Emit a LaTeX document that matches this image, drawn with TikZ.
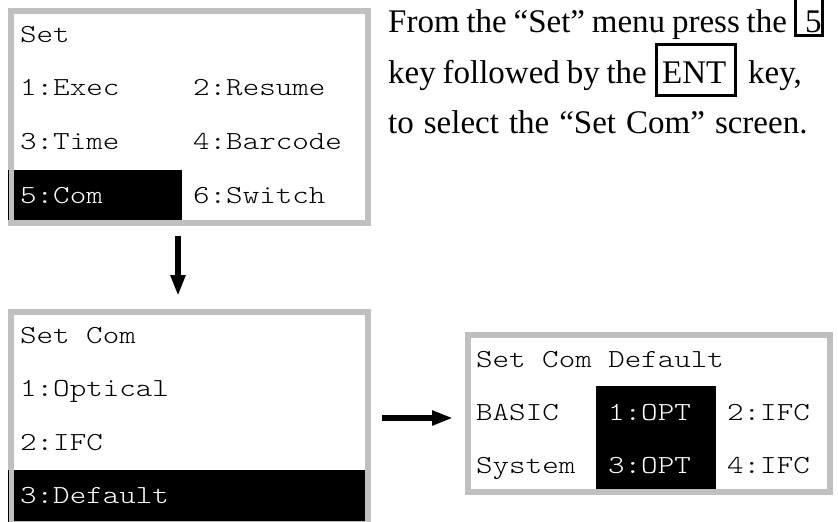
\documentclass[tikz,border=0pt]{standalone}
\usepackage{fontspec}
\setmainfont{Liberation Serif}
\newfontfamily\lcdfont[FakeStretch=1.21]{Latin Modern Mono Light}
\usetikzlibrary{arrows.meta}
\definecolor{lcdgray}{RGB}{192,192,192}
\tikzset{
  screen/.style={rectangle, draw=lcdgray, line width=6pt, fill=white, inner sep=0pt},
  lcd/.style={anchor=base west, inner sep=0pt, font=\lcdfont\fontsize{26}{30}\selectfont, text=black},
  lcdinv/.style={lcd, text=white},
  prose/.style={anchor=base west, inner sep=0pt, font=\fontsize{33}{36}\selectfont},
  keybox/.style={rectangle, draw=black, line width=3pt, inner sep=0pt},
  bigarrow/.style={line width=6pt, -{Triangle[length=21pt,width=14pt]}},
  hl/.style={fill=black},
}
\begin{document}
\begin{tikzpicture}[x=1pt,y=-1pt]
\useasboundingbox (0,0) rectangle (838,522);
% screen 1
\node[screen, minimum width=357pt, minimum height=212pt] (s1) at (189.5,117) {};
\fill[hl] (14,170) rectangle (182,220);
\draw[line width=1pt] (8.5,170) -- (8.5,220);
\node[lcd] (s1t) at (20,42) {Set};
\node[lcd] (s1a) at (20,95.7) {1:Exec};
\node[lcd] (s1b) at (193,95.7) {2:Resume};
\node[lcd] (s1c) at (20,149.3) {3:Time};
\node[lcd] (s1d) at (193,149.3) {4:Barcode};
\node[lcdinv] (s1e) at (20,203) {5:Com};
\node[lcd] (s1f) at (193,203) {6:Switch};
% screen 2
\node[screen, minimum width=357pt, minimum height=212pt] (s2) at (189.5,418) {};
\fill[hl] (14,470) rectangle (365,521);
\draw[line width=1pt] (8.5,470) -- (8.5,522);
\node[lcd] (s2t) at (20,343) {Set Com};
\node[lcd] (s2a) at (20,396.5) {1:Optical};
\node[lcd] (s2b) at (20,450) {2:IFC};
\node[lcdinv] (s2c) at (20,503.5) {3:Default};
% screen 3
\node[screen, minimum width=362pt, minimum height=157pt] (s3) at (649,413.5) {};
\fill[hl] (596,386) rectangle (716,489);
\node[lcd] (s3t) at (476,367) {Set Com Default};
\node[lcd] (s3a) at (476,420) {BASIC};
\node[lcdinv] (s3b) at (608,420) {1:OPT};
\node[lcd] (s3c) at (727,420) {2:IFC};
\node[lcd] (s3d) at (476,473.5) {System};
\node[lcdinv] (s3e) at (608,473.5) {3:OPT};
\node[lcd] (s3f) at (727,473.5) {4:IFC};
% arrows
\coordinate (a1s) at (178,236);
\coordinate (a1e) at (178,296);
\draw[bigarrow] (a1s) -- (a1e);
\coordinate (a2s) at (382,418);
\coordinate (a2e) at (453,418);
\draw[bigarrow] (a2s) -- (a2e);
% prose
\node[prose] (p1) at (388,32) {\spaceskip=6.8pt From the “Set” menu press the};
\node[keybox, minimum width=27pt, minimum height=37.5pt] (k5) at (809,16.75) {};
\node[prose] (k5t) at (805,32) {5};
\node[prose] (p2) at (388,83) {\spaceskip=6.8pt key followed by the};
\node[keybox, minimum width=79pt, minimum height=51pt] (kent) at (696,70) {};
\node[prose] (kentt) at (662,83) {ENT};
\node[prose] (p2b) at (748,83) {key,};
\node[prose] (p3) at (388,133) {\spaceskip=10pt to select the “Set Com” screen.};
\end{tikzpicture}
\end{document}
